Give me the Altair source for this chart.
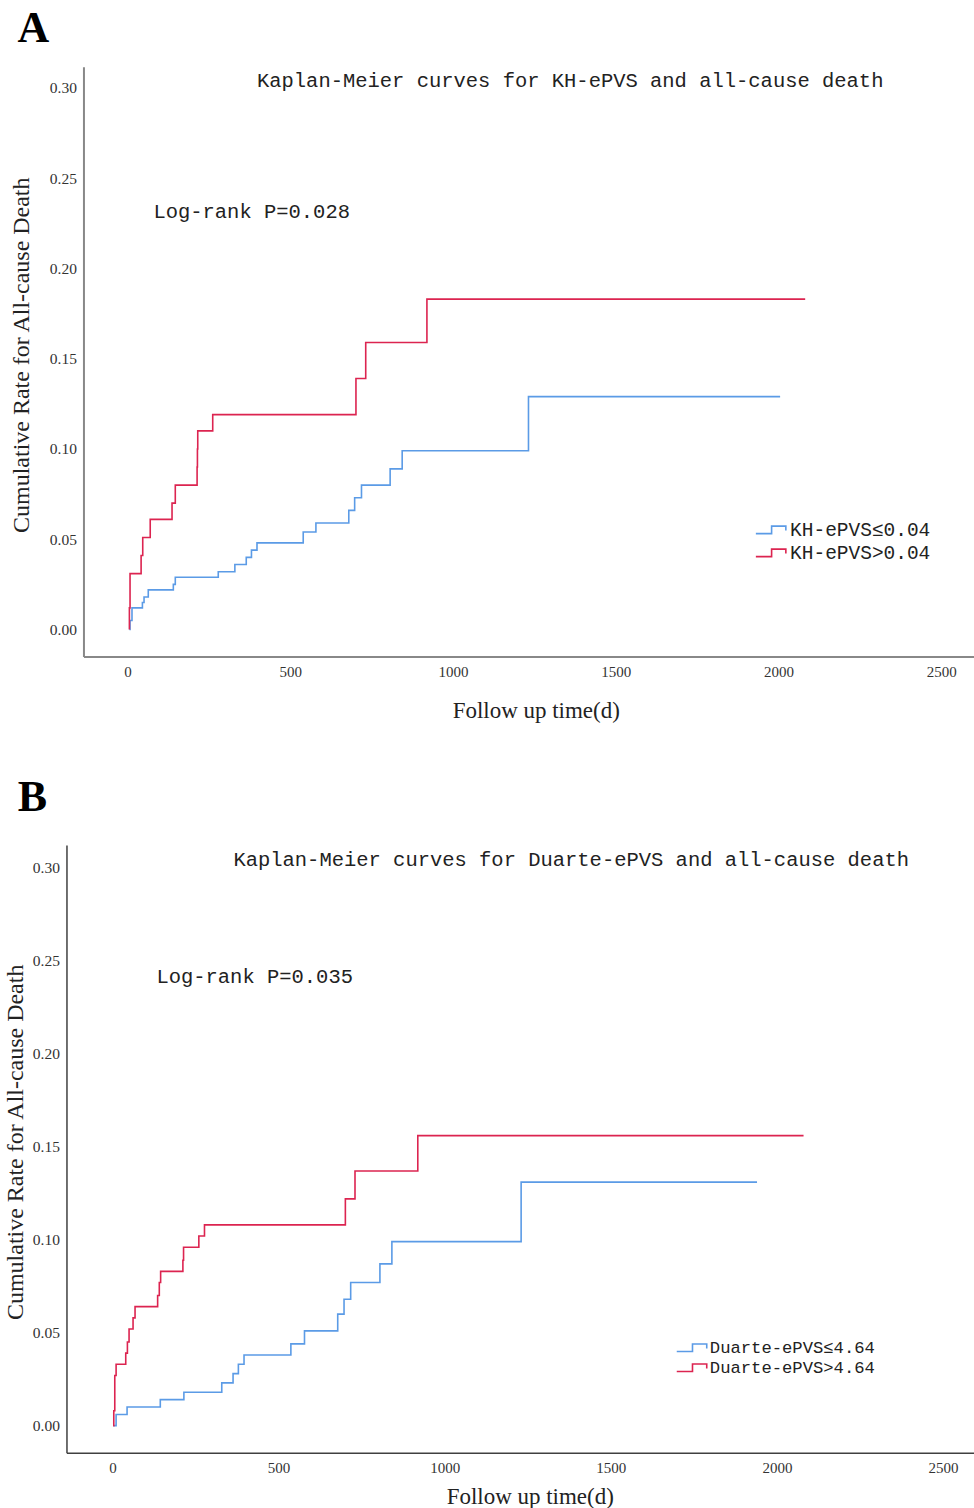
import altair as alt
import pandas as pd

# ---------------- data ----------------
# Panel A : KH-ePVS
a_title = "Kaplan-Meier curves for KH-ePVS and all-cause death"
a_logrank = "Log-rank P=0.028"
a_groups = ["KH-ePVS≤0.04", "KH-ePVS>0.04"]
a_low_t = [6, 8, 14, 46, 51, 64, 141, 147, 279, 330, 365, 381, 398, 540, 579, 680, 698, 719, 807, 844, 1232, 2005]
a_low_v = [0.0, 0.005, 0.012, 0.015, 0.018, 0.022, 0.025, 0.029, 0.032, 0.036, 0.040, 0.044, 0.048,
           0.054, 0.059, 0.066, 0.073, 0.080, 0.089, 0.099, 0.129, 0.129]
a_high_t = [6, 6, 8, 42, 47, 70, 137, 147, 214, 215, 216, 262, 702, 732, 920, 2082]
a_high_v = [0.0, 0.012, 0.031, 0.041, 0.051, 0.061, 0.070, 0.080, 0.090, 0.100, 0.110, 0.119,
            0.139, 0.159, 0.183, 0.183]

# Panel B : Duarte-ePVS
b_title = "Kaplan-Meier curves for Duarte-ePVS and all-cause death"
b_logrank = "Log-rank P=0.035"
b_groups = ["Duarte-ePVS≤4.64", "Duarte-ePVS>4.64"]
b_low_t = [3, 11, 44, 144, 215, 329, 363, 379, 396, 537, 578, 678, 697, 717, 805, 841, 1230, 1940]
b_low_v = [0.0, 0.006, 0.010, 0.014, 0.018, 0.023, 0.028, 0.033, 0.038, 0.044, 0.051, 0.060,
           0.068, 0.077, 0.087, 0.099, 0.131, 0.131]
b_high_t = [2, 4, 7, 11, 40, 45, 50, 62, 68, 136, 141, 145, 212, 214, 260, 277, 701, 730, 919, 2080]
b_high_v = [0.0, 0.008, 0.027, 0.033, 0.039, 0.045, 0.052, 0.058, 0.064, 0.070, 0.077, 0.083,
            0.089, 0.096, 0.102, 0.108, 0.122, 0.137, 0.156, 0.156]

x_ticks = [0, 500, 1000, 1500, 2000, 2500]
y_ticks = [0.00, 0.05, 0.10, 0.15, 0.20, 0.25, 0.30]
x_title = "Follow up time(d)"
y_title = "Cumulative Rate for All-cause Death"
letters = ["A", "B"]

BLUE = "#5b9be6"
RED = "#dc2450"
STEP_PATH = "M-2,0.5H0.1V-0.5H2V0.1"

W = 908  # common panel width (both panels share the same left origin)


def make_df(groups, lt, lv, ht, hv):
    rows = []
    for i, (t, v) in enumerate(zip(lt, lv)):
        rows.append({"t": t, "v": v, "g": groups[0], "i": i})
    for i, (t, v) in enumerate(zip(ht, hv)):
        rows.append({"t": t, "v": v, "g": groups[1], "i": i})
    return pd.DataFrame(rows)


def panel(df, groups, title, logrank, letter, h, xdom, xrange, yoffset, ydom, dom_color,
          dom_width, ytitle_x, ytitle_y, title_pos, lr_pos, letter_pos, leg_pos, leg_fs,
          xtitle_x, xtitle_y):
    x = alt.X("t:Q", scale=alt.Scale(domain=xdom, range=xrange, nice=False, zero=False),
              axis=alt.Axis(values=x_ticks, format="d", title=x_title, grid=False, ticks=False,
                            domainColor=dom_color, domainWidth=dom_width,
                            labelFont="Liberation Serif", labelFontSize=15, labelColor="#333",
                            labelPadding=8, titleFont="Liberation Serif", titleFontSize=23,
                            titleFontWeight="normal", titleColor="#222",
                            titleX=xtitle_x, titleY=xtitle_y, titleAlign="center",
                            titleBaseline="middle"))
    y = alt.Y("v:Q", scale=alt.Scale(domain=ydom, nice=False, zero=False),
              axis=alt.Axis(values=y_ticks, format=".2f", title=y_title, grid=False, ticks=False,
                            offset=yoffset, domainColor=dom_color, domainWidth=dom_width,
                            labelFont="Liberation Serif", labelFontSize=15.5, labelColor="#333",
                            labelPadding=7, titleFont="Liberation Serif", titleFontSize=24,
                            titleFontWeight="normal", titleColor="#222", titleAngle=270,
                            titleX=ytitle_x, titleY=ytitle_y, titleBaseline="middle"))
    color = alt.Color("g:N", scale=alt.Scale(domain=groups, range=[BLUE, RED]),
                      legend=alt.Legend(title=None, orient="none", legendX=leg_pos[0],
                                        legendY=leg_pos[1], symbolType=STEP_PATH, symbolSize=225,
                                        symbolStrokeWidth=1.6, symbolFillColor="transparent",
                                        labelFont="Liberation Mono", labelFontSize=leg_fs,
                                        labelColor="#222", labelOffset=9.5, rowPadding=2,
                                        padding=0, labelLimit=400))
    lines = alt.Chart(df).mark_line(interpolate="step-after", strokeWidth=1.6).encode(
        x=x, y=y, color=color, order="i:Q")

    tdf = pd.DataFrame({"s": [title]})
    ttl = alt.Chart(tdf).mark_text(font="Liberation Mono", fontSize=20.5, color="#222",
                                   align="center", baseline="middle").encode(
        x=alt.value(title_pos[0]), y=alt.value(title_pos[1]), text="s:N")
    ldf = pd.DataFrame({"s": [logrank]})
    lr = alt.Chart(ldf).mark_text(font="Liberation Mono", fontSize=20.5, color="#222",
                                  align="left", baseline="middle").encode(
        x=alt.value(lr_pos[0]), y=alt.value(lr_pos[1]), text="s:N")
    ldf2 = pd.DataFrame({"s": [letter]})
    let = alt.Chart(ldf2).mark_text(font="Liberation Serif", fontSize=44, fontWeight="bold",
                                    color="#000", align="center", baseline="middle").encode(
        x=alt.value(letter_pos[0]), y=alt.value(letter_pos[1]), text="s:N")
    return alt.layer(lines, ttl, lr, let).properties(width=W, height=h)


dfa = make_df(a_groups, a_low_t, a_low_v, a_high_t, a_high_v)
dfb = make_df(b_groups, b_low_t, b_low_v, b_high_t, b_high_v)

# Both plot areas start at x = 66; panel A's axes are shifted 17 px right (range / offset)
A = panel(dfa, a_groups, a_title, a_logrank, letters[0], 590,
          [-135.1, 2600.6], [17, W], -17, [-0.01494, 0.3116], "#888888", 2,
          -62, 288, (504, 14), (87, 145), (-33, -38), (695, 453.5), 19.5, 469.5, 54)
B = panel(dfb, b_groups, b_title, b_logrank, letters[1], 608,
          [-138.4, 2593], [0, W], 0, [-0.01452, 0.31237], "#404040", 1.5,
          -51, 297, (505, 15), (90, 132), (-34, -47), (617, 494.5), 17.2, 463.5, 44)

chart = alt.vconcat(A, B, spacing=53.5).resolve_scale(
    color="independent"
).properties(
    padding={"left": 3.5, "top": 6.5, "right": 0, "bottom": 0},
    background="white",
).configure_view(stroke=None)

chart.save("out.html", embed_options={"renderer": "svg", "actions": False})
